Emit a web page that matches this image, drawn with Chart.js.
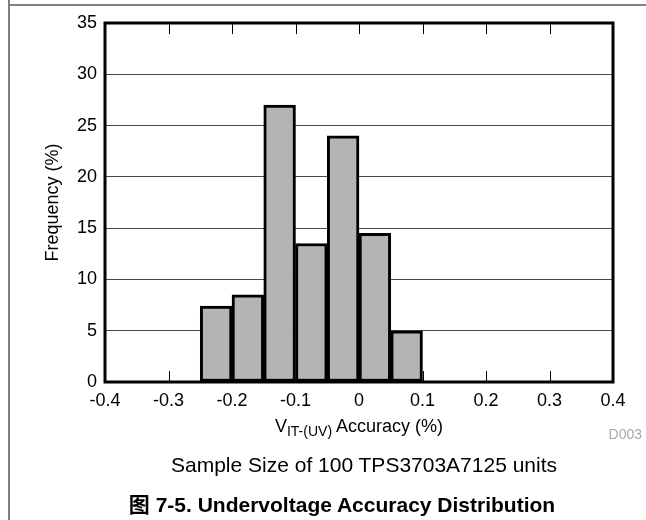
<!DOCTYPE html>
<html>
<head>
<meta charset="utf-8">
<script src="https://cdn.jsdelivr.net/npm/chart.js@4.4.1/dist/chart.umd.min.js"></script>
<style>
  html, body { margin: 0; padding: 0; background: #fff; }
  body { width: 646px; height: 520px; position: relative; overflow: hidden;
         font-family: "Liberation Sans", Arial, "Noto Sans CJK SC", sans-serif; color: #000; }
  #myChart { position: absolute; left: 0; top: 0; }
  .lineL { position: absolute; left: 8px; top: 0; width: 2px; height: 520px; background: #808080; }
  .lineT { position: absolute; left: 8px; top: 4px; width: 638px; height: 2px; background: #808080; }
  .txt { position: absolute; white-space: nowrap; line-height: 1; }
  .xtitle { left: 359px; top: 417px; font-size: 18px; transform: translateX(-50%); }
  .xtitle sub { font-size: 14px; vertical-align: -4px; line-height: 1; }
  .code { right: 4px; top: 427px; font-size: 14px; color: #a8a8a8; }
  .sample { left: 364px; top: 454px; font-size: 21px; transform: translateX(-50%); }
  .caption { left: 342px; top: 494px; font-size: 21px; font-weight: bold; transform: translateX(-50%); }
</style>
</head>
<body>
<div class="lineL"></div>
<div class="lineT"></div>
<canvas id="myChart" width="646" height="520"></canvas>
<div class="txt xtitle">V<sub>IT-(UV)</sub> Accuracy (%)</div>
<div class="txt code">D003</div>
<div class="txt sample">Sample Size of 100 TPS3703A7125 units</div>
<div class="txt caption">图 7-5. Undervoltage Accuracy Distribution</div>
<script>
// centro de cada intervalo (ancho 0.05 %)
const binCenters = [-0.225, -0.175, -0.125, -0.075, -0.025, 0.025, 0.075];
const frequency = [7.4, 8.5, 27, 13.5, 24, 14.5, 5];
const xTicks = [-0.4, -0.3, -0.2, -0.1, 0, 0.1, 0.2, 0.3, 0.4];
const xTickLabels = ['-0.4', '-0.3', '-0.2', '-0.1', '0', '0.1', '0.2', '0.3', '0.4'];
const yTicks = [0, 5, 10, 15, 20, 25, 30, 35];

const points = binCenters.map((c, i) => ({ x: c, y: frequency[i] }));

// marcas cortas del eje x y marco negro del area
const frame = {
    id: 'frame',
    beforeDatasetsDraw(chart) {
        const { ctx, chartArea } = chart;
        const sx = chart.scales.x;
        ctx.save();
        ctx.strokeStyle = '#000';
        ctx.lineWidth = 1;
        xTicks.slice(1, -1).forEach(v => {
            const px = Math.round(sx.getPixelForValue(v)) + 0.5;
            ctx.beginPath();
            ctx.moveTo(px, chartArea.top);
            ctx.lineTo(px, chartArea.top + 11);
            ctx.moveTo(px, chartArea.bottom);
            ctx.lineTo(px, chartArea.bottom - 11);
            ctx.stroke();
        });
        ctx.restore();
    },
    afterDatasetsDraw(chart) {
        const { ctx, chartArea } = chart;
        ctx.save();
        ctx.strokeStyle = '#000';
        ctx.lineWidth = 3;
        ctx.strokeRect(chartArea.left, chartArea.top,
            chartArea.right - chartArea.left, chartArea.bottom - chartArea.top);
        ctx.restore();
    }
};

const ctx = document.getElementById('myChart');
new Chart(ctx, {
    type: 'bar',
    data: {
        datasets: [{
            data: points,
            backgroundColor: '#b4b4b4',
            borderColor: '#000',
            borderWidth: 3,
            borderSkipped: false,
            barPercentage: 1,
            categoryPercentage: 1
        }]
    },
    options: {
        responsive: false,
        animation: false,
        devicePixelRatio: 1,
        layout: { padding: { left: 0, right: 33, top: 23, bottom: 0 } },
        plugins: { legend: { display: false }, tooltip: { enabled: false } },
        scales: {
            x: {
                type: 'linear',
                min: -0.4,
                max: 0.4,
                offset: false,
                grid: { display: false, drawTicks: false },
                border: { display: false },
                afterBuildTicks: s => { s.ticks = xTicks.map(v => ({ value: v })); },
                afterFit: s => { s.height = 138; },
                ticks: {
                    autoSkip: false,
                    maxRotation: 0,
                    padding: 8,
                    color: '#000',
                    font: { family: 'Liberation Sans', size: 18 },
                    callback: (v, i) => xTickLabels[i]
                }
            },
            y: {
                min: 0,
                max: 35,
                afterBuildTicks: s => { s.ticks = yTicks.map(v => ({ value: v })); },
                afterFit: s => { s.width = 105; },
                grid: { color: '#4a4a4a', lineWidth: 1, drawTicks: false },
                border: { display: false },
                ticks: {
                    padding: 8,
                    color: '#000',
                    font: { family: 'Liberation Sans', size: 18 }
                },
                title: {
                    display: true,
                    text: 'Frequency (%)',
                    color: '#000',
                    font: { family: 'Liberation Sans', size: 18 },
                    padding: { top: 42, bottom: 0 }
                }
            }
        }
    },
    plugins: [frame]
});
</script>
</body>
</html>
